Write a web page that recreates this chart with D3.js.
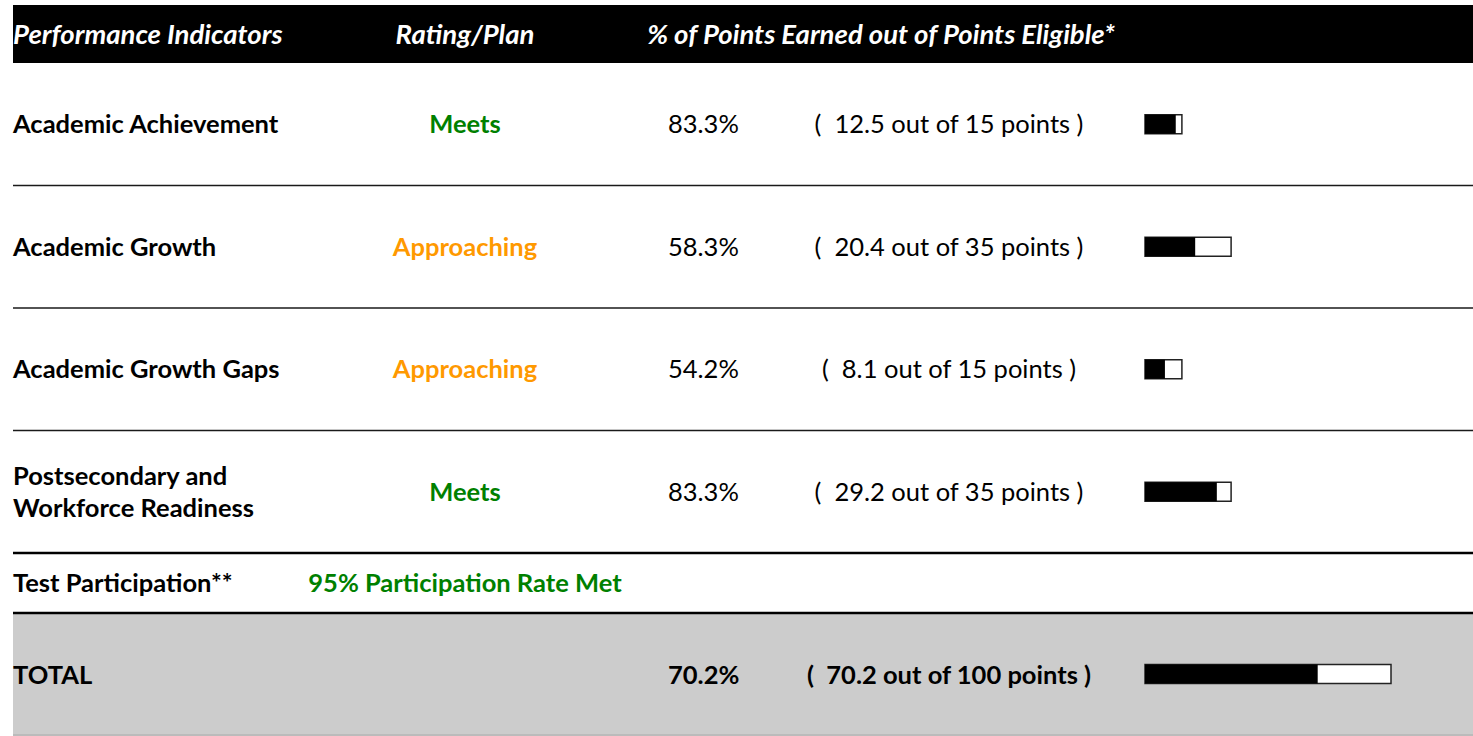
<!DOCTYPE html>
<html>
<head>
<meta charset="utf-8">
<script src="https://cdn.jsdelivr.net/npm/d3@7"></script>
<style>
  body { margin: 0; background: #fff; }
  svg text { font-family: Lato, "Open Sans", sans-serif; white-space: pre; }
</style>
</head>
<body>
<svg id="draw-area" width="1473" height="736"></svg>
<script>
const indicators = ["Academic Achievement", "Academic Growth", "Academic Growth Gaps", "Postsecondary and|Workforce Readiness"];
const ratings = ["Meets", "Approaching", "Approaching", "Meets"];
const pct = [83.3, 58.3, 54.2, 83.3];
const earned = [12.5, 20.4, 8.1, 29.2];
const eligible = [15, 35, 15, 35];
const headers = ["Performance Indicators", "Rating/Plan", "% of Points Earned out of Points Eligible*"];
const participation = ["Test Participation**", "95% Participation Rate Met"];
const total = { label: "TOTAL", pct: 70.2, earned: 70.2, eligible: 100 };

const rating_colors = { "Meets": "#008000", "Approaching": "#ff9900" };

let width = 1473, height = 736;
let left = 13;
let font_size = "25.5px";
let svg = d3.select("#draw-area");

let yScale = d3.scaleBand()
    .domain(d3.range(indicators.length))
    .range([63, 553]);

let barScale = d3.scaleLinear()
    .domain([0, 100])
    .range([0, 246]);

let bar_x = 1145, bar_h = 19;
let col_rating = 465, col_pct = 668, col_points = 949;

// header
svg.append("rect")
    .attr("x", left).attr("y", 5)
    .attr("width", width - left).attr("height", 58)
    .attr("fill", "#000");

let hdr = svg.append("g").attr("class", "header")
    .style("font-style", "italic").style("font-weight", "bold")
    .style("font-size", "27.5px").attr("fill", "#fff");
hdr.append("text").attr("x", left).attr("y", 34).attr("dy", "0.35em").text(headers[0]);
hdr.append("text").attr("x", col_rating).attr("y", 34).attr("dy", "0.35em")
    .attr("text-anchor", "middle").text(headers[1]);
hdr.append("text").attr("x", 881).attr("y", 34).attr("dy", "0.35em")
    .attr("text-anchor", "middle").text(headers[2]);

// total background
svg.append("rect")
    .attr("x", left).attr("y", 613)
    .attr("width", width - left).attr("height", 123)
    .attr("fill", "#cccccc");
svg.append("line")
    .attr("x1", left).attr("x2", width).attr("y1", 735).attr("y2", 735)
    .attr("stroke", "#aaa").attr("stroke-width", 1);

// separators
d3.range(1, indicators.length).forEach(i => {
    svg.append("line")
        .attr("x1", left).attr("x2", width)
        .attr("y1", yScale(i)).attr("y2", yScale(i))
        .attr("stroke", "#1a1a1a").attr("stroke-width", 1.5);
});
[553, 613].forEach(y => {
    svg.append("line")
        .attr("x1", left).attr("x2", width)
        .attr("y1", y).attr("y2", y)
        .attr("stroke", "#000").attr("stroke-width", 2.5);
});

function drawBar(g, cy, e, tot) {
    g.append("rect")
        .attr("x", bar_x).attr("y", cy - bar_h / 2)
        .attr("width", barScale(tot)).attr("height", bar_h)
        .attr("fill", "#fff").attr("stroke", "#222").attr("stroke-width", 1.5);
    g.append("rect")
        .attr("x", bar_x).attr("y", cy - bar_h / 2)
        .attr("width", barScale(e)).attr("height", bar_h)
        .attr("fill", "#000");
}

// righe indicatori
let rows = svg.selectAll("g.row")
    .data(indicators.map((d, i) => ({ name: d, rating: ratings[i], pct: pct[i], earned: earned[i], eligible: eligible[i], i: i })))
    .enter()
    .append("g")
    .attr("class", "row")
    .style("font-size", font_size);

rows.each(function (d) {
    let g = d3.select(this);
    let cy = yScale(d.i) + yScale.bandwidth() / 2;
    let lines = d.name.split("|");
    lines.forEach((l, k) => {
        g.append("text")
            .attr("x", left)
            .attr("y", cy + (k - (lines.length - 1) / 2) * 32)
            .attr("dy", "0.35em")
            .style("font-weight", "bold")
            .text(l);
    });
    g.append("text")
        .attr("x", col_rating).attr("y", cy).attr("dy", "0.35em")
        .attr("text-anchor", "middle")
        .style("font-weight", "bold")
        .attr("fill", rating_colors[d.rating])
        .text(d.rating);
    g.append("text")
        .attr("x", col_pct).attr("y", cy).attr("dy", "0.35em")
        .text(d.pct.toFixed(1) + "%");
    g.append("text")
        .attr("x", col_points).attr("y", cy).attr("dy", "0.35em")
        .attr("text-anchor", "middle")
        .text(`(  ${d.earned} out of ${d.eligible} points )`);
    drawBar(g, cy, d.earned, d.eligible);
});

// partecipazione
let part = svg.append("g").style("font-size", font_size).style("font-weight", "bold");
part.append("text").attr("x", left).attr("y", 583).attr("dy", "0.35em").text(participation[0]);
part.append("text").attr("x", col_rating).attr("y", 583).attr("dy", "0.35em")
    .attr("text-anchor", "middle").attr("fill", rating_colors["Meets"]).text(participation[1]);

// totale
let tg = svg.append("g").style("font-size", font_size).style("font-weight", "bold");
let ty = 675;
tg.append("text").attr("x", left).attr("y", ty).attr("dy", "0.35em").text(total.label);
tg.append("text").attr("x", col_pct).attr("y", ty).attr("dy", "0.35em").text(total.pct.toFixed(1) + "%");
tg.append("text").attr("x", col_points).attr("y", ty).attr("dy", "0.35em")
    .attr("text-anchor", "middle")
    .text(`(  ${total.earned} out of ${total.eligible} points )`);
drawBar(tg, 674, total.earned, total.eligible);
</script>
</body>
</html>
